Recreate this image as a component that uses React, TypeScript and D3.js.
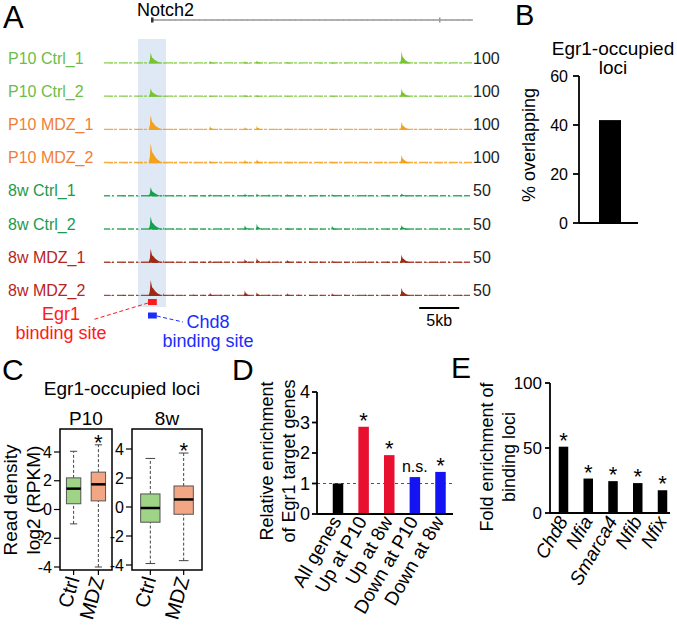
import React from "react";
import * as d3 from "d3";

const FONT = "'Liberation Sans', Arial, Helvetica, sans-serif";

// ---------- Panel A data ----------
const trackNames = ["P10 Ctrl_1", "P10 Ctrl_2", "P10 MDZ_1", "P10 MDZ_2", "8w Ctrl_1", "8w Ctrl_2", "8w MDZ_1", "8w MDZ_2"];
const trackMax = [100, 100, 100, 100, 50, 50, 50, 50];
const trackLabelColors = ["#6dbd45", "#6dbd45", "#f07f36", "#f07f36", "#1c9a4c", "#1c9a4c", "#b8241c", "#b8241c"];
const trackFillColors = ["#76c52e", "#76c52e", "#f5a11c", "#f5a11c", "#16a04c", "#16a04c", "#9e2a16", "#9e2a16"];
// major peaks (kb position) and heights per track (in track units)
const peakKb = [5.84, 13.25, 17.6, 19.1, 22.9, 28.5, 37.2];
const peakHeights = [
  [45, 12, 10, 13, 6, 5, 50],
  [35, 5, 8, 7, 4, 5, 34],
  [62, 16, 12, 17, 6, 6, 34],
  [84, 10, 14, 16, 7, 6, 34],
  [19, 5, 6, 6, 5, 5, 6],
  [27, 3, 9, 12, 4, 8, 9],
  [29, 5, 8, 10, 6, 5, 17],
  [33, 7, 12, 8, 6, 6, 17],
];
const minorKb = [0.8, 2.4, 4.2, 7.4, 8.6, 9.8, 11.2, 12.4, 14.6, 16.1, 20.6, 21.8, 24.3, 25.7, 27.0, 30.1, 31.4, 32.7, 34.1, 35.4, 38.9, 40.3, 41.7, 43.1, 44.6];
const minorHeights = [
  [2, 1, 2, 5, 3, 2, 3, 2, 3, 2, 4, 3, 3, 2, 3, 3, 2, 3, 2, 3, 2, 2, 3, 2, 3],
  [2, 2, 1, 6, 2, 2, 2, 3, 2, 3, 3, 3, 2, 3, 2, 2, 3, 2, 3, 2, 2, 3, 2, 2, 3],
  [2, 2, 2, 7, 3, 2, 3, 3, 4, 2, 4, 3, 3, 3, 4, 3, 3, 3, 3, 2, 3, 2, 3, 3, 2],
  [2, 2, 2, 8, 3, 2, 3, 2, 3, 3, 5, 3, 3, 3, 3, 2, 3, 3, 2, 3, 2, 3, 2, 3, 2],
  [1, 2, 2, 4, 3, 2, 3, 3, 3, 4, 5, 4, 4, 3, 4, 4, 3, 4, 3, 4, 3, 3, 2, 3, 2],
  [1, 2, 2, 5, 3, 2, 3, 2, 3, 2, 3, 2, 3, 4, 3, 3, 4, 3, 4, 3, 3, 2, 2, 3, 2],
  [2, 1, 2, 5, 3, 3, 3, 3, 4, 3, 5, 4, 3, 4, 4, 3, 4, 5, 4, 4, 3, 3, 3, 3, 2],
  [2, 3, 2, 6, 4, 3, 4, 3, 4, 3, 4, 3, 4, 3, 3, 4, 3, 4, 3, 3, 4, 3, 3, 3, 3],
];
const scaleLabels = ["100", "100", "100", "100", "50", "50", "50", "50"];
const genomeKb = [0, 46];
const geneSpanKb = [6.0, 46.1];
const geneExonKb = [6.0, 42.0];
const highlightKb = [4.25, 7.75];
const scaleBarKb = [39.4, 44.4];

// ---------- Panel B data ----------
const bCats = ["Egr1-occupied loci"];
const bValues = [42];
const bTicks = [0, 20, 40, 60];

// ---------- Panel C data ----------
const cGroups = ["P10", "8w"];
const cCats = ["Ctrl", "MDZ"];
// [lower whisker, q1, median, q3, upper whisker]
const p10Ctrl = [-1.0, 0.4, 1.45, 2.2, 4.05];
const p10Mdz = [-4.0, 0.6, 1.75, 2.6, 4.5];
const w8Ctrl = [-3.9, -1.05, -0.07, 0.9, 3.35];
const w8Mdz = [-3.7, -0.5, 0.52, 1.45, 3.72];
const cTicks = [-4, -2, 0, 2, 4];
const cColors = ["#9fd386", "#f3a683"];

// ---------- Panel D data ----------
const dCats = ["All genes", "Up at P10", "Up at 8w", "Down at P10", "Down at 8w"];
const dValues = [1.0, 2.86, 1.93, 1.21, 1.38];
const dColors = ["#000000", "#e8102e", "#e8102e", "#1414f2", "#1414f2"];
const dMarks = ["", "*", "*", "n.s.", "*"];
const dTicks = [0, 1, 2, 3, 4];

// ---------- Panel E data ----------
const eCats = ["Chd8", "Nfia", "Smarca4", "Nfib", "Nfix"];
const eValues = [51, 26.5, 24.5, 23, 17.5];
const eTicks = [0, 50, 100];

// peak glyph template (relative offsets, relative heights)
const peakShape: [number, number][] = [
  [-0.2, 0], [-0.08, 0.3], [-0.02, 0.85], [0, 1], [0.05, 0.8], [0.12, 0.55], [0.25, 0.45], [0.4, 0.3], [0.6, 0.18], [0.85, 0.08], [1.0, 0],
];

function TrackPanel() {
  const x = d3.scaleLinear().domain(genomeKb).range([104, 472]);
  const yPos = d3.scalePoint<string>().domain(trackNames).range([63.5, 296]);
  return (
    <g>
      <rect x={x(highlightKb[0])} y={39} width={x(highlightKb[1]) - x(highlightKb[0])} height={268} fill="#dfe9f5" />
      <text x={3} y={28} fontSize={31} fontFamily={FONT}>A</text>
      <text x={137} y={15.5} fontSize={18} fontFamily={FONT}>Notch2</text>
      <line x1={x(geneSpanKb[0])} x2={x(geneSpanKb[1])} y1={20} y2={20} stroke="#8a8a8a" strokeWidth={1.6} />
      <line x1={x(geneSpanKb[0])} x2={x(geneSpanKb[1])} y1={20} y2={20} stroke="#bdbdbd" strokeWidth={1} strokeDasharray="5 1" />
      {geneExonKb.map((k, i) => (
        <rect key={i} x={x(k) - 1} y={17.5} width={i === 0 ? 2.5 : 1.5} height={5} fill={i === 0 ? "#333" : "#999"} />
      ))}
      {trackNames.map((name, ti) => {
        const base = yPos(name)!;
        const h = d3.scaleLinear().domain([0, trackMax[ti]]).range([0, 24]);
        const area = d3.area<[number, number]>()
          .x((d) => x(d[0]))
          .y0(base)
          .y1((d) => base - h(d[1]));
        const majors = peakKb.map((k, pi) => {
          const w = pi === 0 ? 1.4 : pi === 6 ? 1.1 : 0.8;
          return peakShape.map(([dx, dy]) => [k + dx * w, dy * peakHeights[ti][pi]] as [number, number]);
        });
        const minors = minorKb.map((k, pi) =>
          peakShape.map(([dx, dy]) => [k + dx * 0.6, dy * minorHeights[ti][pi]] as [number, number])
        );
        return (
          <g key={name}>
            <text x={8} y={base} fontSize={16} fontFamily={FONT} fill={trackLabelColors[ti]}>{name}</text>
            <line x1={x(genomeKb[0])} x2={x(genomeKb[1])} y1={base - 0.6} y2={base - 0.6} stroke={trackFillColors[ti]} strokeWidth={1.4} strokeDasharray={ti >= 4 ? "6 2 2 3 9 2" : "9 1 3 2"} opacity={0.85} />
            {minors.map((pts, i) => (
              <path key={"m" + i} d={area(pts)!} fill={trackFillColors[ti]} opacity={0.9} />
            ))}
            {majors.map((pts, i) => (
              <path key={"p" + i} d={area(pts)!} fill={trackFillColors[ti]} />
            ))}
            <text x={473} y={base} fontSize={16} fontFamily={FONT} fill="#222">{scaleLabels[ti]}</text>
          </g>
        );
      })}
      {/* binding sites */}
      <rect x={x(5.5)} y={299} width={x(6.6) - x(5.5)} height={6} fill="#ff1a1a" />
      <rect x={x(5.5)} y={312.5} width={x(6.6) - x(5.5)} height={6} fill="#1a2cff" />
      <line x1={x(5.5)} y1={303} x2={92} y2={320} stroke="#ff1a1a" strokeWidth={1} strokeDasharray="4 2.5" />
      <line x1={x(6.6)} y1={316} x2={183} y2={322} stroke="#1a2cff" strokeWidth={1} strokeDasharray="4 2.5" />
      <text x={61} y={319.5} fontSize={18} fontFamily={FONT} fill="#ff1a1a" textAnchor="middle">Egr1</text>
      <text x={61} y={339} fontSize={18} fontFamily={FONT} fill="#ff1a1a" textAnchor="middle">binding site</text>
      <text x={208} y={328} fontSize={18} fontFamily={FONT} fill="#1a2cff" textAnchor="middle">Chd8</text>
      <text x={208} y={347} fontSize={18} fontFamily={FONT} fill="#1a2cff" textAnchor="middle">binding site</text>
      <line x1={x(scaleBarKb[0])} x2={x(scaleBarKb[1])} y1={308} y2={308} stroke="#000" strokeWidth={2} />
      <text x={(x(scaleBarKb[0]) + x(scaleBarKb[1])) / 2} y={326} fontSize={16} fontFamily={FONT} textAnchor="middle">5kb</text>
    </g>
  );
}

function PanelB() {
  const y = d3.scaleLinear().domain([0, 60]).range([223, 76]);
  const x = d3.scalePoint<string>().domain(bCats).range([599, 621]);
  const bw = 22;
  return (
    <g fontFamily={FONT}>
      <text x={515} y={25} fontSize={29}>B</text>
      <text x={613} y={55} fontSize={19} textAnchor="middle">Egr1-occupied</text>
      <text x={613} y={74} fontSize={19} textAnchor="middle">loci</text>
      <line x1={579} x2={579} y1={y(60)} y2={y(0)} stroke="#000" strokeWidth={1.8} />
      <line x1={579} x2={638} y1={y(0)} y2={y(0)} stroke="#000" strokeWidth={1.8} />
      {bTicks.map((t) => (
        <g key={t}>
          <line x1={573} x2={579} y1={y(t)} y2={y(t)} stroke="#000" strokeWidth={1.8} />
          <text x={568} y={y(t) + 5.5} fontSize={16} textAnchor="end">{t}</text>
        </g>
      ))}
      {bCats.map((c, i) => (
        <rect key={c} x={x(c)! - bw / 2} y={y(bValues[i])} width={bw} height={y(0) - y(bValues[i])} fill="#000" />
      ))}
      <text transform="translate(535,145) rotate(-90)" fontSize={18} textAnchor="middle">% overlapping</text>
    </g>
  );
}

function BoxPlot({ title, frame, yRange, stats }: { title: string; frame: [number, number]; yRange: [number, number]; stats: number[][] }) {
  const y = d3.scaleLinear().domain([-4, 4]).range(yRange);
  const x = d3.scaleBand<string>().domain(cCats).range(frame).paddingInner(0.42).paddingOuter(0.26);
  const bw = x.bandwidth();
  return (
    <g fontFamily={FONT}>
      <text x={(frame[0] + frame[1]) / 2} y={425} fontSize={19} textAnchor="middle">{title}</text>
      <rect x={frame[0]} y={429} width={frame[1] - frame[0]} height={141} fill="none" stroke="#000" strokeWidth={1.5} />
      {cTicks.map((t) => (
        <g key={t}>
          <line x1={frame[0] - 6} x2={frame[0]} y1={y(t)} y2={y(t)} stroke="#000" strokeWidth={1.2} />
          <text x={frame[0] - 8} y={y(t) + 5.5} fontSize={16} textAnchor="end">{t}</text>
        </g>
      ))}
      {cCats.map((c, i) => {
        const s = stats[i];
        const x0 = x(c)!;
        const cx = x0 + bw / 2;
        return (
          <g key={c}>
            <line x1={cx} x2={cx} y1={y(s[0])} y2={y(s[1])} stroke="#444" strokeDasharray="3 2" strokeWidth={1} />
            <line x1={cx} x2={cx} y1={y(s[3])} y2={y(s[4])} stroke="#444" strokeDasharray="3 2" strokeWidth={1} />
            <line x1={cx - bw / 4} x2={cx + bw / 4} y1={y(s[0])} y2={y(s[0])} stroke="#444" strokeWidth={1} />
            <line x1={cx - bw / 4} x2={cx + bw / 4} y1={y(s[4])} y2={y(s[4])} stroke="#444" strokeWidth={1} />
            <rect x={x0} y={y(s[3])} width={bw} height={y(s[1]) - y(s[3])} fill={cColors[i]} stroke="#555" strokeWidth={1} />
            <line x1={x0} x2={x0 + bw} y1={y(s[2])} y2={y(s[2])} stroke="#000" strokeWidth={2.5} />
            <line x1={cx} x2={cx} y1={570} y2={575} stroke="#000" strokeWidth={1.2} />
            <text transform={`translate(${cx + 6},${579}) rotate(-74)`} fontSize={20} textAnchor="end">{c}</text>
            {i === 1 && <text x={cx} y={y(s[4]) + 5} fontSize={22} textAnchor="middle">*</text>}
          </g>
        );
      })}
    </g>
  );
}

function PanelC() {
  return (
    <g fontFamily={FONT}>
      <text x={2} y={380} fontSize={30}>C</text>
      <text x={122} y={395} fontSize={19} textAnchor="middle">Egr1-occupied loci</text>
      <text transform="translate(17,500) rotate(-90)" fontSize={19} textAnchor="middle">Read density</text>
      <text transform="translate(40,500) rotate(-90)" fontSize={19} textAnchor="middle">log2 (RPKM)</text>
      <BoxPlot title={cGroups[0]} frame={[60, 112]} yRange={[567, 452]} stats={[p10Ctrl, p10Mdz]} />
      <BoxPlot title={cGroups[1]} frame={[132, 202]} yRange={[565, 449]} stats={[w8Ctrl, w8Mdz]} />
    </g>
  );
}

function PanelD() {
  const y = d3.scaleLinear().domain([0, 4]).range([514, 392]);
  const x = d3.scalePoint<string>().domain(dCats).range([338, 440.5]);
  const bw = 10.5;
  return (
    <g fontFamily={FONT}>
      <text x={232} y={380} fontSize={30}>D</text>
      <text transform="translate(273,461) rotate(-90)" fontSize={18} textAnchor="middle">Relative enrichment</text>
      <text transform="translate(295,461) rotate(-90)" fontSize={18} textAnchor="middle">of Egr1 target genes</text>
      <line x1={317} x2={453} y1={y(1)} y2={y(1)} stroke="#555" strokeWidth={1} strokeDasharray="3 3" />
      {dCats.map((c, i) => (
        <g key={c}>
          <rect x={x(c)! - bw / 2} y={y(dValues[i])} width={bw} height={y(0) - y(dValues[i])} fill={dColors[i]} />
          {dMarks[i] === "*" && <text x={x(c)!} y={y(dValues[i]) + 1} fontSize={22} textAnchor="middle">*</text>}
          {dMarks[i] === "n.s." && <text x={x(c)!} y={y(dValues[i]) - 5} fontSize={16} textAnchor="middle">n.s.</text>}
          <text transform={`translate(${x(c)! + 4},${521}) rotate(-60)`} fontSize={19} textAnchor="end">{c}</text>
        </g>
      ))}
      <line x1={317} x2={317} y1={y(4)} y2={y(0)} stroke="#000" strokeWidth={1.8} />
      <line x1={317} x2={453} y1={y(0)} y2={y(0)} stroke="#000" strokeWidth={1.8} />
      {dTicks.map((t) => (
        <g key={t}>
          <line x1={312} x2={317} y1={y(t)} y2={y(t)} stroke="#000" strokeWidth={1.8} />
          <text x={310} y={y(t) + 6} fontSize={18} textAnchor="end">{t}</text>
        </g>
      ))}
    </g>
  );
}

function PanelE() {
  const y = d3.scaleLinear().domain([0, 100]).range([513, 383]);
  const x = d3.scalePoint<string>().domain(eCats).range([563.5, 662.5]);
  const bw = 9.5;
  return (
    <g fontFamily={FONT}>
      <text x={451} y={378} fontSize={30}>E</text>
      <text transform="translate(493,457) rotate(-90)" fontSize={18} textAnchor="middle">Fold enrichment of</text>
      <text transform="translate(515,457) rotate(-90)" fontSize={18} textAnchor="middle">binding loci</text>
      {eCats.map((c, i) => (
        <g key={c}>
          <rect x={x(c)! - bw / 2} y={y(eValues[i])} width={bw} height={y(0) - y(eValues[i])} fill="#000" />
          <text x={x(c)!} y={y(eValues[i]) + 1} fontSize={22} textAnchor="middle">*</text>
          <text transform={`translate(${x(c)! + 5},${521}) rotate(-60)`} fontSize={19} fontStyle="italic" textAnchor="end">{c}</text>
        </g>
      ))}
      <line x1={550} x2={550} y1={y(100)} y2={y(0)} stroke="#000" strokeWidth={1.8} />
      <line x1={550} x2={670} y1={y(0)} y2={y(0)} stroke="#000" strokeWidth={1.8} />
      {eTicks.map((t) => (
        <g key={t}>
          <line x1={545} x2={550} y1={y(t)} y2={y(t)} stroke="#000" strokeWidth={1.8} />
          <text x={542} y={y(t) + 6} fontSize={17} textAnchor="end">{t}</text>
        </g>
      ))}
    </g>
  );
}

export default function App() {
  return (
    <div style={{ position: "absolute", left: 0, top: 0, width: 677, height: 628, background: "#fff" }}>
      <svg width={677} height={628} viewBox="0 0 677 628" style={{ display: "block" }}>
        <rect width={677} height={628} fill="#fff" />
        <TrackPanel />
        <PanelB />
        <PanelC />
        <PanelD />
        <PanelE />
      </svg>
    </div>
  );
}
